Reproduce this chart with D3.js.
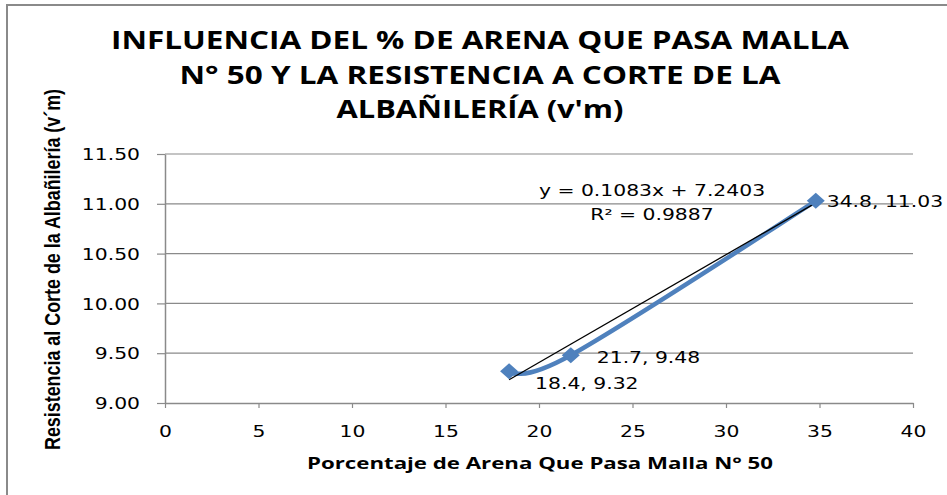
<!DOCTYPE html>
<html>
<head>
<meta charset="utf-8">
<script src="https://cdn.jsdelivr.net/npm/d3@7/dist/d3.min.js"></script>
<style>
  html, body { margin: 0; padding: 0; background: #ffffff; }
  svg { display: block; }
</style>
</head>
<body>
<svg id="chart" width="947" height="495"></svg>
<script>
// Data: % of sand passing sieve N° 50 vs. masonry shear strength (v'm)
const pctArena = [18.4, 21.7, 34.8];
const resistencia = [9.32, 9.48, 11.03];
const pointLabels = ["18.4, 9.32", "21.7, 9.48", "34.8, 11.03"];

// Linear trendline as reported by the fit
const trendSlope = 0.1083;
const trendIntercept = 7.2403;
const trendR2 = 0.9887;

const xTicks = [0, 5, 10, 15, 20, 25, 30, 35, 40];
const yTicks = [9.00, 9.50, 10.00, 10.50, 11.00, 11.50];

const titleLines = [
  "INFLUENCIA DEL % DE ARENA QUE PASA MALLA",
  "N° 50 Y LA RESISTENCIA A CORTE DE LA",
  "ALBAÑILERÍA (v'm)"
];
const xTitle = "Porcentaje de Arena Que Pasa Malla N° 50";
const yTitle = "Resistencia al Corte de la Albañilería (v´m)";

// Layout
const plot = { left: 165, right: 913, top: 154, bottom: 403 };
const STRETCH = 1.27;          // horizontal widening of the body text
const gridColor = "#8a8a8a";
const blue = "#4F81BD";
const bodyFont = "'DejaVu Sans', Verdana, sans-serif";
const boldFont = "'Open Sans', 'Noto Sans', sans-serif";

const svg = d3.select("#chart");

// widen text horizontally by a constant factor
function widen(sel, k) {
  sel.each(function () {
    const w = this.getComputedTextLength();
    d3.select(this).attr("textLength", w * k).attr("lengthAdjust", "spacingAndGlyphs");
  });
}

// Chart-area border
svg.append("rect")
  .attr("x", 7).attr("y", 5)
  .attr("width", 960).attr("height", 520)
  .attr("fill", "#ffffff")
  .attr("stroke", gridColor)
  .attr("stroke-width", 2);

const x = d3.scaleLinear().domain([0, 40]).range([plot.left, plot.right]);
const y = d3.scaleLinear().domain([9, 11.5]).range([plot.bottom, plot.top]);

// Horizontal gridlines
svg.append("g")
  .selectAll("line")
  .data(yTicks.filter(d => d > 9))
  .join("line")
  .attr("x1", plot.left).attr("x2", plot.right)
  .attr("y1", d => y(d)).attr("y2", d => y(d))
  .attr("stroke", gridColor)
  .attr("stroke-width", 1.2);

// Y axis
const yAxis = svg.append("g")
  .attr("transform", `translate(${plot.left},0)`)
  .call(d3.axisLeft(y).tickValues(yTicks).tickFormat(d3.format(".2f")).tickSize(8).tickSizeOuter(0).tickPadding(17));
yAxis.select(".domain").attr("stroke", gridColor).attr("stroke-width", 1.5);
yAxis.selectAll(".tick line").attr("stroke", gridColor).attr("stroke-width", 1.2);
yAxis.selectAll(".tick text")
  .attr("font-family", bodyFont).attr("font-size", 16).attr("fill", "#000")
  .attr("dy", "0.36em");
widen(yAxis.selectAll(".tick text"), STRETCH);

// X axis
const xAxis = svg.append("g")
  .attr("transform", `translate(0,${plot.bottom})`)
  .call(d3.axisBottom(x).tickValues(xTicks).tickFormat(d3.format("d")).tickSize(5).tickSizeOuter(0).tickPadding(18));
xAxis.select(".domain").attr("stroke", gridColor).attr("stroke-width", 1.5);
xAxis.selectAll(".tick line").attr("stroke", gridColor).attr("stroke-width", 1.2);
xAxis.selectAll(".tick text")
  .attr("font-family", bodyFont).attr("font-size", 16).attr("fill", "#000");
widen(xAxis.selectAll(".tick text"), STRETCH);

// Series: smoothed line through the measured points
const pts = pctArena.map((v, i) => [v, resistencia[i]]);
svg.append("path")
  .datum(pts)
  .attr("fill", "none")
  .attr("stroke", blue)
  .attr("stroke-width", 4.5)
  .attr("stroke-linejoin", "round")
  .attr("d", d3.line().x(d => x(d[0])).y(d => y(d[1])).curve(d3.curveCatmullRom.alpha(0)));

// Linear trendline over the data range
const xr = d3.extent(pctArena);
svg.append("line")
  .attr("x1", x(xr[0])).attr("y1", y(trendSlope * xr[0] + trendIntercept))
  .attr("x2", x(xr[1])).attr("y2", y(trendSlope * xr[1] + trendIntercept))
  .attr("stroke", "#000")
  .attr("stroke-width", 1.3);

// Diamond markers
const mw = 9, mh = 8;
svg.append("g")
  .selectAll("path")
  .data(pts)
  .join("path")
  .attr("transform", d => `translate(${x(d[0])},${y(d[1])})`)
  .attr("d", `M0,${-mh}L${mw},0L0,${mh}L${-mw},0Z`)
  .attr("fill", blue);

// Data labels
const labelOffsets = [[26, 18], [26, 8], [11, 6]];
const lbl = svg.append("g")
  .selectAll("text")
  .data(pts)
  .join("text")
  .attr("x", (d, i) => x(d[0]) + labelOffsets[i][0])
  .attr("y", (d, i) => y(d[1]) + labelOffsets[i][1])
  .attr("font-family", bodyFont).attr("font-size", 16).attr("fill", "#000")
  .text((d, i) => pointLabels[i]);
widen(lbl, STRETCH);

// Trendline equation
const eq = svg.append("g");
eq.append("text")
  .attr("x", 652).attr("y", 196)
  .text(`y = ${trendSlope}x + ${trendIntercept}`);
eq.append("text")
  .attr("x", 652).attr("y", 220)
  .text(`R² = ${trendR2}`);
eq.selectAll("text")
  .attr("text-anchor", "middle")
  .attr("font-family", bodyFont).attr("font-size", 16).attr("fill", "#000");
widen(eq.selectAll("text"), STRETCH);

// Title
const titleWidths = [738, 601, 287];
svg.append("g")
  .selectAll("text")
  .data(titleLines)
  .join("text")
  .attr("x", 480)
  .attr("y", (d, i) => 49 + i * 34.5)
  .attr("text-anchor", "middle")
  .attr("font-family", boldFont).attr("font-weight", "bold").attr("font-size", 25)
  .attr("fill", "#000")
  .attr("textLength", (d, i) => titleWidths[i])
  .attr("lengthAdjust", "spacingAndGlyphs")
  .text(d => d);

// X axis title
svg.append("text")
  .attr("x", 540).attr("y", 469)
  .attr("text-anchor", "middle")
  .attr("font-family", boldFont).attr("font-weight", "bold").attr("font-size", 15.5)
  .attr("fill", "#000")
  .attr("textLength", 466).attr("lengthAdjust", "spacingAndGlyphs")
  .text(xTitle);

// Y axis title (rotated, condensed)
svg.append("text")
  .attr("transform", `translate(60,269.5) scale(${STRETCH},1) rotate(-90)`)
  .attr("text-anchor", "middle")
  .attr("font-family", "'Liberation Sans Narrow', 'Liberation Sans', Arial, sans-serif")
  .attr("font-weight", "bold").attr("font-size", 17)
  .attr("fill", "#000")
  .attr("textLength", 361).attr("lengthAdjust", "spacingAndGlyphs")
  .text(yTitle);
</script>
</body>
</html>
